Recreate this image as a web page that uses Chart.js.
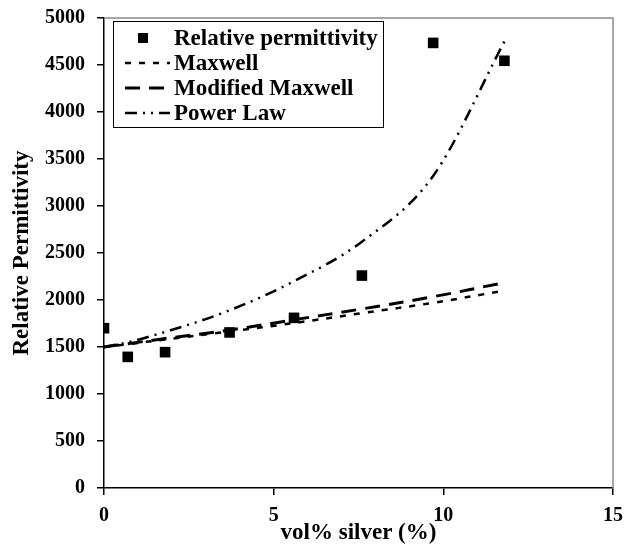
<!DOCTYPE html>
<html>
<head>
<meta charset="utf-8">
<script src="https://cdn.jsdelivr.net/npm/chart.js@4.4.1/dist/chart.umd.min.js"></script>
<style>
  html, body { margin: 0; padding: 0; background: #fff; }
  #wrap { width: 624px; height: 547px; }
</style>
</head>
<body>
<div id="wrap"><canvas id="chart" width="624" height="547"></canvas></div>
<script>
// measured permittivity
const silverVol = [0, 0.7, 1.8, 3.7, 5.6, 7.6, 9.7, 11.8];
const permittivity = [1700, 1395, 1445, 1655, 1810, 2260, 4735, 4545];

// model curves, evaluated at the same compositions
const maxwell = [1500, 1530, 1580, 1665, 1755, 1860, 1970, 2100];
const modifiedMaxwell = [1500, 1535, 1590, 1680, 1790, 1905, 2035, 2185];
const powerLaw = [1500, 1550, 1660, 1890, 2200, 2620, 3320, 4750];

const xTicks = [0, 5, 10, 15];
const seriesNames = ['Relative permittivity', 'Maxwell', 'Modified Maxwell', 'Power Law'];

const FONT = '"Liberation Serif", "DejaVu Serif", serif';
const toPoints = ys => silverVol.map((x, i) => ({ x: x, y: ys[i] }));

// box legend inside the plot, like the original figure
const boxLegend = {
  id: 'boxLegend',
  afterDraw(chart) {
    const { ctx, chartArea } = chart;
    const x0 = chartArea.left + 9, y0 = chartArea.top + 3;
    const w = 270, rowH = 25;
    ctx.save();
    ctx.strokeStyle = '#000';
    ctx.lineWidth = 1;
    ctx.strokeRect(x0 + 0.5, y0 + 0.5, w, 106);
    ctx.font = 'bold 23px ' + FONT;
    ctx.textBaseline = 'middle';
    ctx.fillStyle = '#000';
    chart.data.datasets.forEach((ds, i) => {
      const cy = y0 + 17 + i * rowH;
      if (ds.showLine === false) {
        ctx.fillRect(x0 + 25, cy - 5, 10, 10);
      } else {
        ctx.beginPath();
        ctx.setLineDash(ds.borderDash || []);
        ctx.lineWidth = ds.borderWidth;
        ctx.moveTo(x0 + 12, cy);
        ctx.lineTo(x0 + 57, cy);
        ctx.stroke();
        ctx.setLineDash([]);
      }
      ctx.fillText(ds.label, x0 + 61, cy + 1);
    });
    // top and right frame lines
    ctx.strokeStyle = '#8a8a8a';
    ctx.lineWidth = 1.5;
    ctx.beginPath();
    ctx.moveTo(chartArea.left, chartArea.top);
    ctx.lineTo(chartArea.right, chartArea.top);
    ctx.lineTo(chartArea.right, chartArea.bottom);
    ctx.stroke();
    ctx.restore();
  }
};

new Chart(document.getElementById('chart').getContext('2d'), {
  type: 'scatter',
  data: {
    datasets: [
      {
        label: seriesNames[0],
        data: toPoints(permittivity),
        showLine: false,
        pointStyle: 'rect',
        pointRadius: 7.5,
        backgroundColor: '#000',
        borderColor: '#000',
        borderWidth: 0,
      },
      {
        label: seriesNames[1],
        data: toPoints(maxwell),
        showLine: true,
        pointRadius: 0,
        borderColor: '#000',
        borderWidth: 2.5,
        borderDash: [6, 8],
        tension: 0.4,
      },
      {
        label: seriesNames[2],
        data: toPoints(modifiedMaxwell),
        showLine: true,
        pointRadius: 0,
        borderColor: '#000',
        borderWidth: 3,
        borderDash: [15, 9],
        tension: 0.4,
      },
      {
        label: seriesNames[3],
        data: toPoints(powerLaw),
        showLine: true,
        pointRadius: 0,
        borderColor: '#000',
        borderWidth: 2.5,
        borderDash: [12, 6, 2, 6, 2, 6],
        cubicInterpolationMode: 'monotone',
      },
    ],
  },
  options: {
    responsive: false,
    animation: false,
    layout: { padding: { top: 18, right: 11, left: 0, bottom: 0 } },
    plugins: {
      legend: { display: false },
      tooltip: { enabled: false },
    },
    scales: {
      x: {
        type: 'linear',
        min: 0,
        max: 15,
        afterBuildTicks: axis => { axis.ticks = xTicks.map(v => ({ value: v })); },
        afterFit: axis => {
          axis.height = 59;
          axis.paddingLeft = 0;
          axis.paddingRight = 0;
        },
        grid: { drawOnChartArea: false, drawTicks: true, tickLength: 7, color: '#000', lineWidth: 1.5 },
        border: { color: '#000', width: 1.5 },
        ticks: { color: '#000', padding: 9, font: { family: FONT, size: 20, weight: 'bold' }, callback: v => String(v) },
        title: {
          display: true,
          text: 'vol% silver (%)',
          color: '#000',
          padding: { top: 0, bottom: 0 },
          font: { family: FONT, size: 23, weight: 'bold' },
        },
      },
      y: {
        min: 0,
        max: 5000,
        afterFit: axis => {
          axis.width = 104;
          axis.paddingTop = 0;
          axis.paddingBottom = 0;
        },
        grid: { drawOnChartArea: false, drawTicks: true, tickLength: 7, color: '#000', lineWidth: 1.5 },
        border: { color: '#000', width: 1.5 },
        ticks: { stepSize: 500, color: '#000', padding: 12, font: { family: FONT, size: 20, weight: 'bold' }, callback: v => String(v) },
        title: {
          display: true,
          text: 'Relative Permittivity',
          color: '#000',
          padding: { top: 8, bottom: 0 },
          font: { family: FONT, size: 23, weight: 'bold' },
        },
      },
    },
  },
  plugins: [boxLegend],
});
</script>
</body>
</html>
